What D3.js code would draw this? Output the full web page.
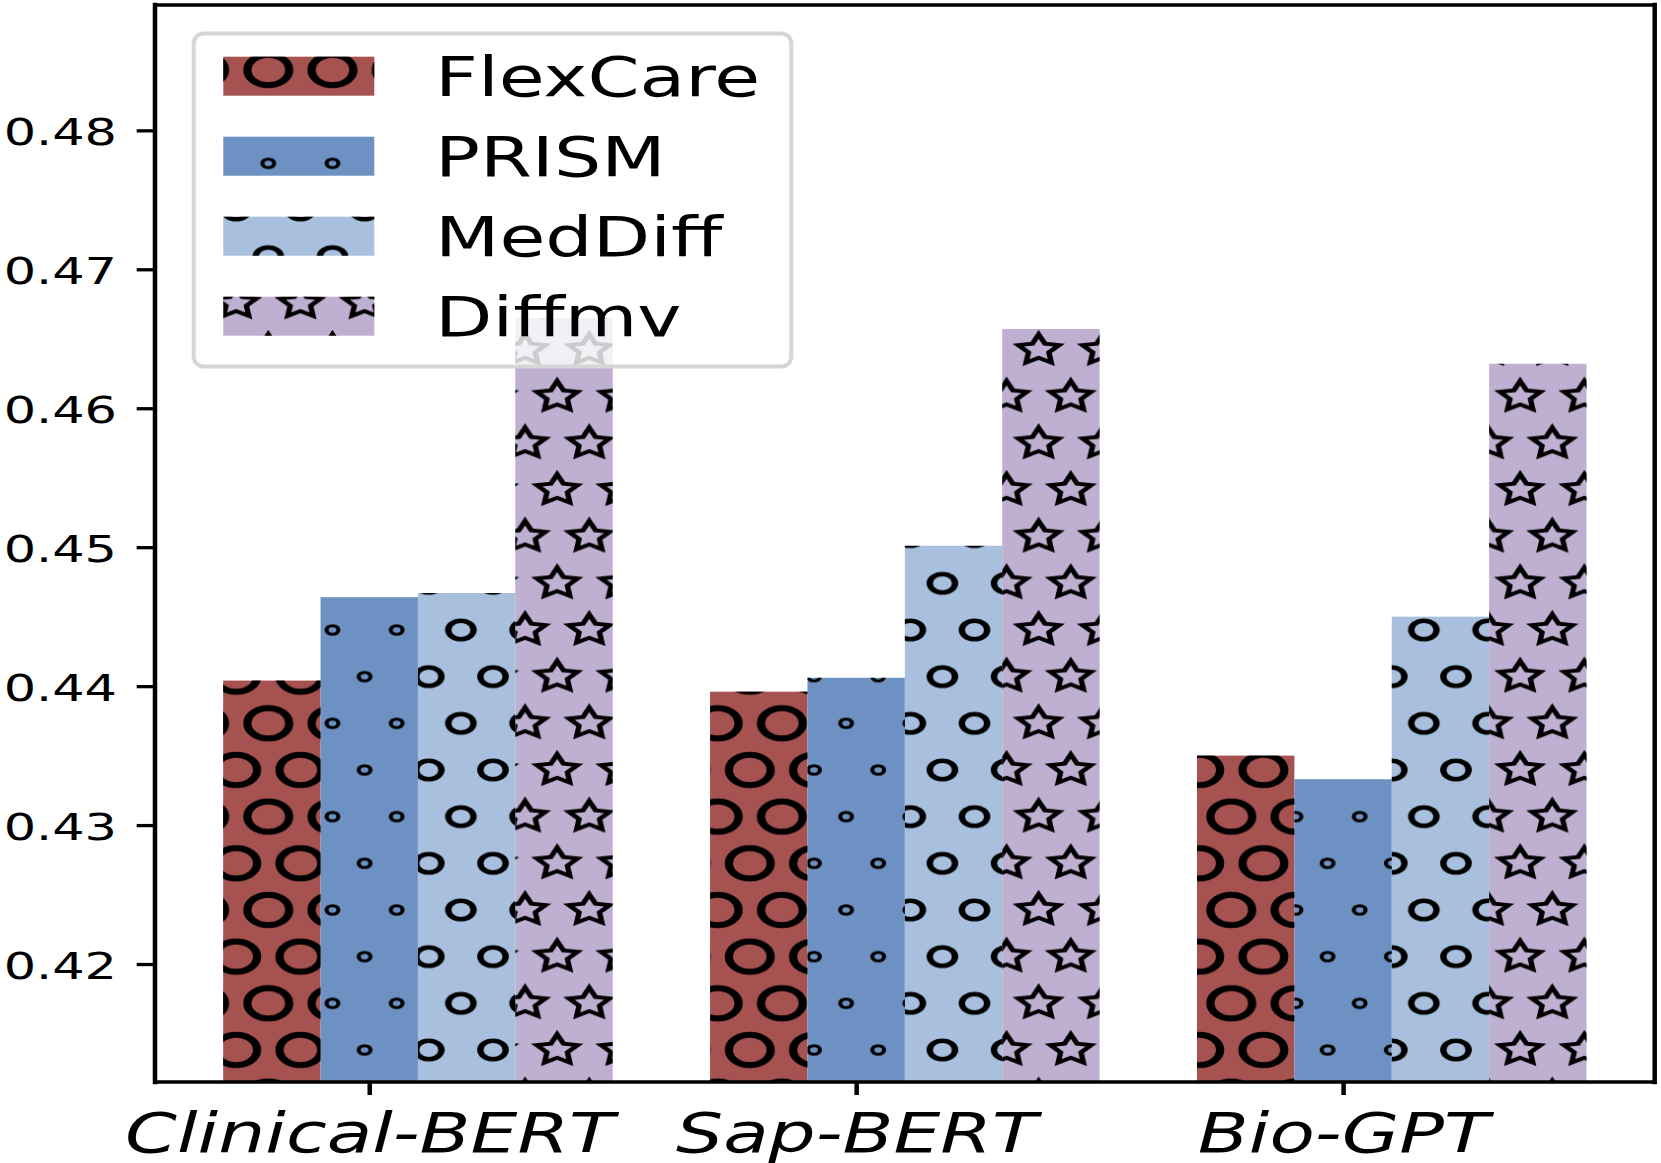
<!DOCTYPE html>
<html><head><meta charset="utf-8">
<script src="https://cdn.jsdelivr.net/npm/d3@7"></script>
<style>body{margin:0;background:#fff} svg{display:block}</style>
</head><body>
<svg id="c" width="1661" height="1163"></svg>
<script>
// ---- data ----
const categories = ["Clinical-BERT", "Sap-BERT", "Bio-GPT"];
const seriesNames = ["FlexCare", "PRISM", "MedDiff", "Diffmv"];
const flexcare = [0.4404, 0.4396, 0.4350];
const prism    = [0.4464, 0.4406, 0.4333];
const meddiff  = [0.4467, 0.4501, 0.4450];
const diffmv   = [0.4665, 0.4657, 0.4632];
const yTicks = [0.42, 0.43, 0.44, 0.45, 0.46, 0.47, 0.48];
const seriesColors = ["#A55250", "#6C91C2", "#A8C0DE", "#BFB0D2"];
const seriesValues = [flexcare, prism, meddiff, diffmv];

// ---- layout ----
const svg = d3.select("#c");
const L = 155, R = 1654.7, T = 5, B = 1082;
const x = d3.scaleLinear().domain([-0.44, 2.64]).range([L, R]);
const y = d3.scaleLinear().domain([0.41151, 0.48902]).range([B, T]);
const barW = 0.2;
const SX = 1.376; // horizontal stretch of original picture

// ---- hatch patterns (global grid) ----
const defs = svg.append("defs");
const PW = 64.2, PH = 93.33, PX = 236.2, PY = 723.3;
const centers = [[PW / 2, 0], [PW / 2, PH], [0, PH / 2], [PW, PH / 2]];
function starPath(Ro, Ri) {
  const pts = [];
  for (let k = 0; k < 10; k++) {
    const a = -Math.PI / 2 + k * Math.PI / 5;
    const r = k % 2 === 0 ? Ro : Ri;
    pts.push([r * Math.cos(a), r * Math.sin(a)]);
  }
  return "M" + pts.map(p => p[0].toFixed(2) + "," + p[1].toFixed(2)).join("L") + "Z";
}
const hatchSpecs = [
  {type: "circle", r: 15.2, sw: 6.0},
  {type: "circle", r: 4.3, sw: 3.0},
  {type: "circle", r: 9.2, sw: 4.6},
  {type: "star", r: 15.6, sw: 3.9}
];
hatchSpecs.forEach((h, i) => {
  const p = defs.append("pattern").attr("id", "hatch" + i)
    .attr("patternUnits", "userSpaceOnUse")
    .attr("x", PX).attr("y", PY).attr("width", PW).attr("height", PH);
  centers.forEach(c => {
    const g = p.append("g").attr("transform", `translate(${c[0]},${c[1]}) scale(${SX},1)`);
    if (h.type === "circle") {
      g.append("circle").attr("r", h.r).attr("fill", "none")
        .attr("stroke", "#000").attr("stroke-width", h.sw);
    } else {
      g.append("path").attr("d", starPath(h.r, h.r * 0.5)).attr("fill", "none")
        .attr("stroke", "#000").attr("stroke-width", h.sw)
        .attr("stroke-linejoin", "miter").attr("stroke-miterlimit", 10);
    }
  });
});

// ---- bars ----
const bars = [];
seriesValues.forEach((vals, j) => {
  vals.forEach((v, i) => bars.push({i, j, v}));
});
const barG = svg.append("g");
const bx = d => x(d.i - 0.3 + barW * d.j);
const bw = x(barW) - x(0);
barG.selectAll("rect.fill").data(bars).join("rect").attr("class", "fill")
  .attr("x", bx).attr("width", bw)
  .attr("y", d => y(d.v)).attr("height", d => y(y.domain()[0]) - y(d.v))
  .attr("fill", d => seriesColors[d.j]);
barG.selectAll("rect.hatch").data(bars).join("rect").attr("class", "hatch")
  .attr("x", bx).attr("width", bw)
  .attr("y", d => y(d.v)).attr("height", d => y(y.domain()[0]) - y(d.v))
  .attr("fill", d => `url(#hatch${d.j})`);

// ---- axes ----
const yAxis = svg.append("g").attr("transform", `translate(${L},0)`)
  .call(d3.axisLeft(y).tickValues(yTicks).tickSize(18.3).tickFormat(d3.format(".2f")));
yAxis.select(".domain").remove();
yAxis.selectAll(".tick line").attr("stroke", "#000").attr("stroke-width", 3.3);
yAxis.selectAll(".tick text")
  .attr("font-family", "DejaVu Sans").attr("font-size", 38).attr("fill", "#000")
  .attr("text-anchor", "end").attr("x", -38 / 1.34).attr("dy", null).attr("y", 14.5)
  .attr("transform", "scale(1.34,1)");

const xAxis = svg.append("g").attr("transform", `translate(0,${B})`)
  .call(d3.axisBottom(x).tickValues([0, 1, 2]).tickSize(13).tickFormat(i => categories[i]));
xAxis.select(".domain").remove();
xAxis.selectAll(".tick line").attr("stroke", "#000").attr("stroke-width", 4.5);
xAxis.selectAll(".tick text")
  .attr("font-family", "DejaVu Sans").attr("font-style", "italic").attr("font-size", 55)
  .attr("fill", "#000").attr("text-anchor", "middle").attr("y", 69.7).attr("dy", null)
  .attr("transform", "scale(1.35,1)");

// ---- spines ----
const sp = svg.append("g").attr("stroke", "#000").attr("stroke-linecap", "square");
sp.append("line").attr("x1", L).attr("x2", L).attr("y1", T).attr("y2", B).attr("stroke-width", 4.5);
sp.append("line").attr("x1", R).attr("x2", R).attr("y1", T).attr("y2", B).attr("stroke-width", 4.5);
sp.append("line").attr("x1", L).attr("x2", R).attr("y1", T).attr("y2", T).attr("stroke-width", 3.3);
sp.append("line").attr("x1", L).attr("x2", R).attr("y1", B).attr("y2", B).attr("stroke-width", 3.3);

// ---- legend ----
const lg = svg.append("g");
lg.append("rect").attr("x", 193.7).attr("y", 33.5).attr("width", 597.6).attr("height", 333)
  .attr("rx", 10).attr("fill", "#fff").attr("fill-opacity", 0.8)
  .attr("stroke", "#d6d6d6").attr("stroke-width", 4);
const baselines = seriesNames.map((s, k) => 95.7 + 80 * k);
seriesNames.forEach((s, k) => {
  const yb = baselines[k];
  lg.append("rect").attr("x", 223.3).attr("y", yb - 39).attr("width", 151).attr("height", 39)
    .attr("fill", seriesColors[k]);
  lg.append("rect").attr("x", 223.3).attr("y", yb - 39).attr("width", 151).attr("height", 39)
    .attr("fill", `url(#hatch${k})`);
  lg.append("text").attr("transform", `translate(435,${yb}) scale(1.345,1)`)
    .attr("font-family", "DejaVu Sans").attr("font-size", 55.5).attr("fill", "#000")
    .text(s);
});
</script>
</body></html>
